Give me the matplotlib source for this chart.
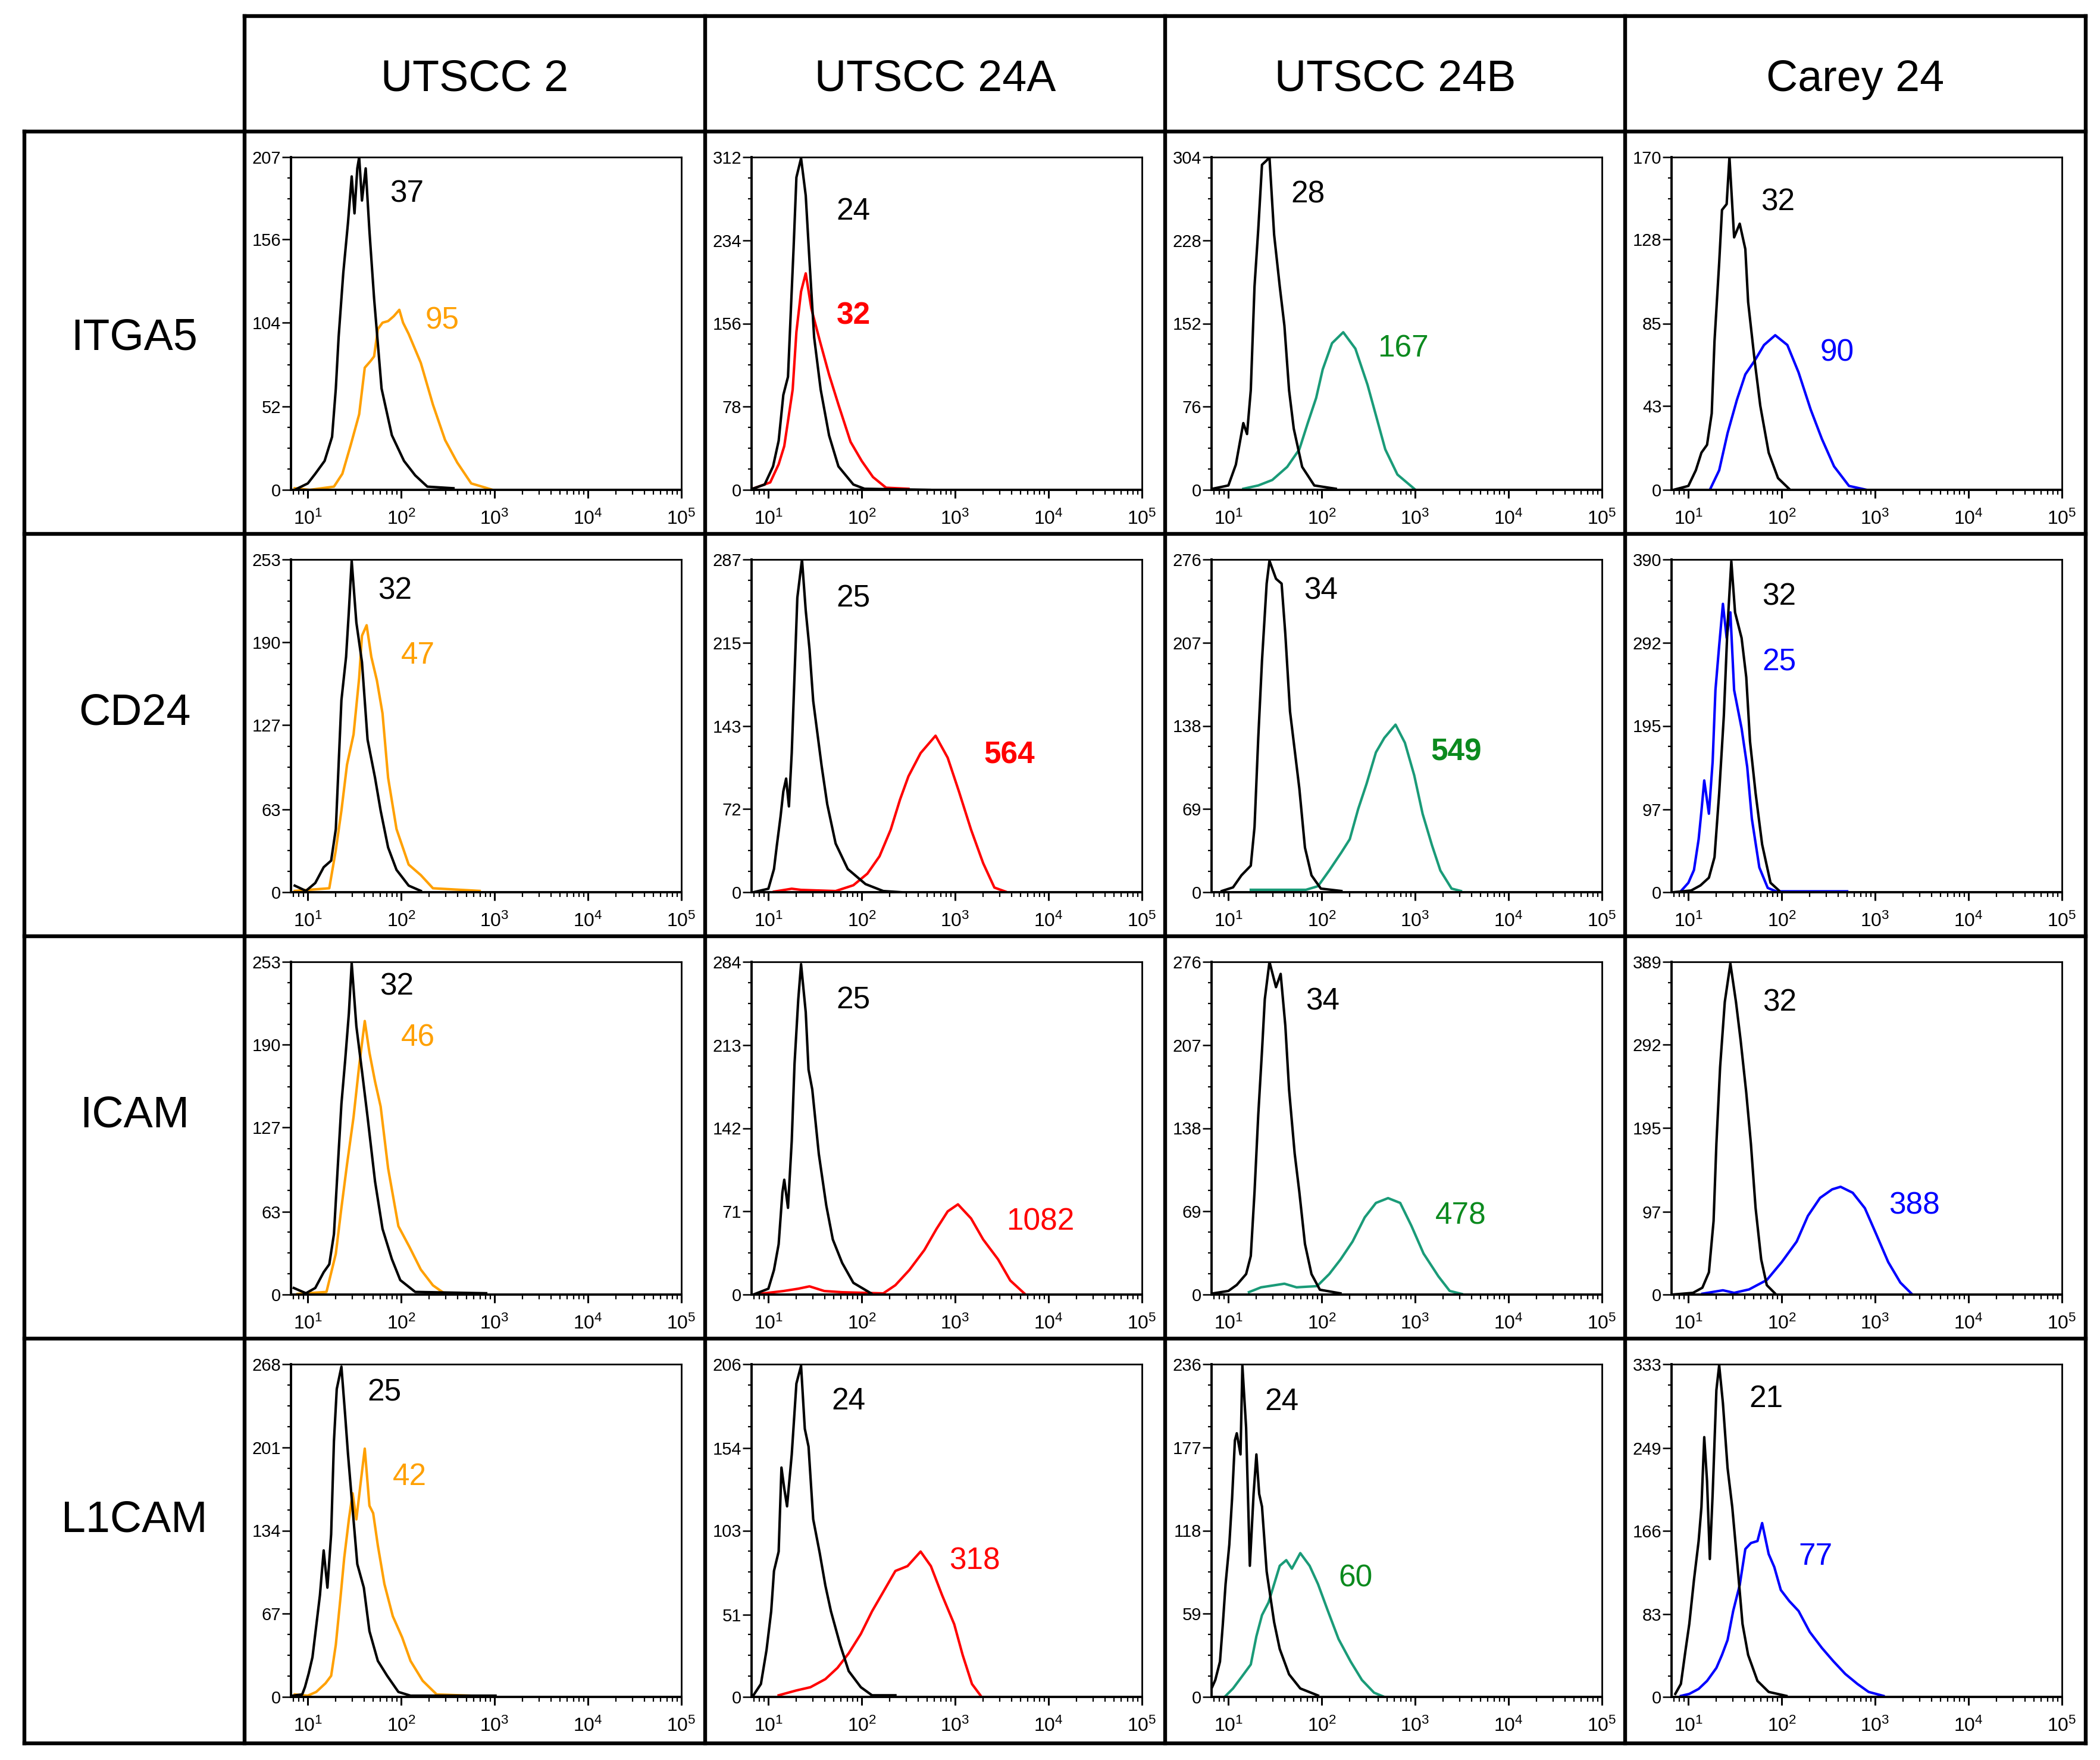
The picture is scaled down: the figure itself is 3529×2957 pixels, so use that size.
import numpy as np
import matplotlib
matplotlib.use("Agg")
import matplotlib.pyplot as plt
from matplotlib.lines import Line2D
from matplotlib.ticker import FixedLocator, NullFormatter

plt.rcParams['font.family'] = ['Liberation Sans', 'DejaVu Sans']
plt.rcParams['mathtext.fontset'] = 'custom'
plt.rcParams['mathtext.rm'] = 'Liberation Sans'
plt.rcParams['mathtext.it'] = 'Liberation Sans'

# table headers
cell_lines = ["UTSCC 2", "UTSCC 24A", "UTSCC 24B", "Carey 24"]
markers = ["ITGA5", "CD24", "ICAM", "L1CAM"]

# histogram traces: (log10 fluorescence, events)
# --- ITGA5
itga5_utscc2_ctrl = [(0.86, 0), (1.0, 4), (1.08, 10), (1.18, 18), (1.26, 33), (1.30, 63), (1.33, 95), (1.38, 135),
                     (1.43, 166), (1.47, 195), (1.50, 172), (1.53, 200), (1.55, 207), (1.58, 180), (1.62, 200),
                     (1.66, 161), (1.71, 119), (1.79, 63), (1.90, 34), (2.03, 18), (2.15, 9), (2.28, 2), (2.56, 1)]
itga5_utscc2_ab = [(0.86, 1), (1.02, 0), (1.28, 2), (1.37, 10), (1.46, 28), (1.55, 47), (1.61, 76), (1.67, 80),
                   (1.71, 83), (1.75, 100), (1.80, 104), (1.86, 105), (1.92, 108), (1.98, 112), (2.02, 104),
                   (2.08, 97), (2.21, 79), (2.34, 53), (2.47, 31), (2.60, 17), (2.75, 4), (2.98, 0)]
itga5_24a_ctrl = [(0.83, 1), (0.96, 5), (1.05, 22), (1.11, 46), (1.16, 89), (1.21, 106), (1.24, 167), (1.27, 227),
                  (1.30, 293), (1.35, 311), (1.40, 276), (1.44, 215), (1.49, 143), (1.56, 94), (1.65, 51),
                  (1.75, 22), (1.91, 5), (2.03, 1), (2.73, 0)]
itga5_24a_ab = [(0.83, 1), (1.02, 7), (1.11, 24), (1.17, 41), (1.26, 94), (1.30, 148), (1.35, 186), (1.40, 203),
                (1.46, 170), (1.55, 140), (1.65, 108), (1.75, 80), (1.88, 45), (2.00, 27), (2.12, 12), (2.26, 2),
                (2.50, 1)]
itga5_24b_ctrl = [(0.83, 1), (1.0, 4), (1.08, 23), (1.16, 61), (1.20, 51), (1.24, 91), (1.28, 186), (1.32, 238),
                  (1.36, 297), (1.41, 301), (1.44, 304), (1.49, 233), (1.55, 186), (1.60, 150), (1.65, 91),
                  (1.70, 56), (1.79, 21), (1.92, 4), (2.15, 1)]
itga5_24b_ab = [(1.16, 1), (1.32, 4), (1.47, 9), (1.63, 21), (1.76, 37), (1.85, 61), (1.94, 84), (2.01, 110),
                (2.11, 134), (2.23, 144), (2.36, 129), (2.49, 96), (2.59, 65), (2.68, 37), (2.81, 14), (2.99, 1)]
itga5_carey_ctrl = [(0.84, 0), (1.0, 2), (1.08, 10), (1.14, 19), (1.20, 23), (1.25, 39), (1.28, 76), (1.33, 116),
                    (1.36, 143), (1.41, 146), (1.44, 170), (1.49, 129), (1.55, 136), (1.61, 123), (1.64, 96),
                    (1.71, 66), (1.77, 43), (1.86, 19), (1.96, 6), (2.09, 0)]
itga5_carey_ab = [(1.23, 0), (1.33, 10), (1.42, 29), (1.52, 46), (1.61, 59), (1.71, 66), (1.81, 74), (1.93, 79),
                  (2.06, 74), (2.18, 60), (2.31, 41), (2.43, 26), (2.56, 12), (2.72, 2), (2.91, 0)]
# --- CD24
cd24_utscc2_ctrl = [(0.86, 5), (0.98, 1), (1.08, 7), (1.17, 19), (1.25, 24), (1.30, 48), (1.33, 97), (1.36, 146),
                    (1.41, 179), (1.44, 214), (1.47, 252), (1.52, 205), (1.58, 175), (1.64, 116), (1.72, 87),
                    (1.78, 62), (1.86, 34), (1.95, 17), (2.08, 5), (2.21, 1)]
cd24_utscc2_ab = [(0.86, 1), (1.23, 3), (1.30, 32), (1.36, 62), (1.42, 97), (1.49, 120), (1.55, 163), (1.58, 195),
                  (1.63, 203), (1.68, 179), (1.74, 161), (1.80, 136), (1.86, 87), (1.95, 48), (2.08, 21),
                  (2.21, 13), (2.34, 3), (2.84, 1)]
cd24_24a_ctrl = [(0.84, 0), (1.0, 3), (1.06, 20), (1.09, 40), (1.13, 65), (1.16, 87), (1.19, 98), (1.22, 74),
                 (1.25, 120), (1.28, 187), (1.31, 254), (1.36, 287), (1.40, 243), (1.44, 210), (1.48, 165),
                 (1.57, 109), (1.63, 76), (1.72, 42), (1.85, 20), (2.04, 7), (2.23, 1), (2.42, 0)]
cd24_24a_ab = [(1.06, 0.5), (1.25, 3), (1.35, 2), (1.72, 1), (1.91, 6), (2.06, 16), (2.19, 31), (2.31, 54),
               (2.41, 80), (2.50, 100), (2.63, 120), (2.79, 135), (2.92, 116), (3.04, 87), (3.17, 54), (3.30, 25),
               (3.42, 4), (3.54, 0.5)]
cd24_24b_ctrl = [(0.93, 1), (1.05, 4), (1.14, 14), (1.24, 22), (1.28, 54), (1.32, 128), (1.36, 192), (1.41, 256),
                 (1.44, 275), (1.51, 260), (1.57, 256), (1.61, 214), (1.66, 150), (1.71, 118), (1.76, 86),
                 (1.82, 37), (1.89, 14), (1.99, 3), (2.21, 1)]
cd24_24b_ab = [(1.24, 2), (1.83, 2), (1.96, 5), (2.08, 18), (2.21, 33), (2.30, 44), (2.39, 69), (2.48, 90),
               (2.58, 116), (2.67, 128), (2.79, 139), (2.89, 124), (2.99, 97), (3.08, 65), (3.18, 39), (3.27, 18),
               (3.39, 3), (3.49, 1)]
cd24_carey_ctrl = [(0.84, 0), (1.03, 2), (1.13, 8), (1.22, 17), (1.28, 41), (1.33, 116), (1.38, 207), (1.42, 313),
                   (1.46, 388), (1.50, 328), (1.57, 298), (1.62, 252), (1.66, 177), (1.72, 116), (1.79, 56),
                   (1.88, 11), (1.97, 2)]
cd24_carey_ab = [(0.91, 0), (1.0, 11), (1.06, 26), (1.11, 62), (1.14, 95), (1.17, 131), (1.22, 92), (1.26, 153),
                 (1.29, 237), (1.33, 289), (1.37, 338), (1.41, 298), (1.45, 328), (1.49, 237), (1.57, 192),
                 (1.63, 147), (1.68, 86), (1.76, 29), (1.85, 5), (1.94, 1), (2.29, 1), (2.70, 1)]
# --- ICAM
icam_utscc2_ctrl = [(0.85, 5), (0.98, 1), (1.08, 5), (1.17, 17), (1.23, 23), (1.28, 46), (1.32, 96), (1.36, 145),
                    (1.40, 178), (1.44, 214), (1.47, 252), (1.52, 204), (1.58, 170), (1.64, 135), (1.72, 86),
                    (1.80, 50), (1.90, 27), (1.99, 11), (2.15, 2), (2.91, 1)]
icam_utscc2_ab = [(0.89, 0.5), (1.20, 2), (1.30, 31), (1.36, 66), (1.42, 99), (1.49, 135), (1.55, 174),
                  (1.61, 208), (1.66, 184), (1.72, 162), (1.78, 143), (1.86, 96), (1.97, 52), (2.09, 36),
                  (2.21, 19), (2.34, 7), (2.46, 1)]
icam_24a_ctrl = [(0.84, 0), (1.0, 5), (1.06, 21), (1.11, 43), (1.15, 87), (1.17, 98), (1.21, 74), (1.25, 131),
                 (1.28, 197), (1.32, 252), (1.35, 282), (1.40, 241), (1.43, 192), (1.47, 175), (1.54, 120),
                 (1.62, 76), (1.69, 47), (1.79, 27), (1.91, 10), (2.10, 1)]
icam_24a_ab = [(0.84, 0), (1.16, 3), (1.32, 5), (1.44, 7), (1.60, 3), (1.79, 2), (2.23, 1), (2.36, 8), (2.51, 21),
               (2.67, 38), (2.80, 56), (2.92, 71), (3.03, 77), (3.17, 65), (3.30, 47), (3.46, 30), (3.59, 12),
               (3.74, 1)]
icam_24b_ctrl = [(0.84, 1), (1.0, 3), (1.09, 8), (1.19, 17), (1.24, 32), (1.28, 85), (1.32, 149), (1.36, 202),
                 (1.39, 245), (1.44, 276), (1.51, 255), (1.56, 266), (1.61, 223), (1.65, 170), (1.71, 117),
                 (1.76, 85), (1.82, 42), (1.89, 17), (1.98, 4), (2.20, 1)]
icam_24b_ab = [(1.22, 2), (1.35, 6), (1.60, 9), (1.73, 6), (1.95, 7), (2.08, 17), (2.20, 29), (2.33, 44),
               (2.46, 64), (2.58, 76), (2.71, 80), (2.84, 76), (2.96, 57), (3.09, 34), (3.25, 15), (3.37, 3),
               (3.50, 0.5)]
icam_carey_ctrl = [(0.83, 0), (1.05, 2), (1.15, 8), (1.22, 26), (1.27, 86), (1.30, 176), (1.34, 266), (1.39, 342),
                   (1.45, 387), (1.51, 342), (1.56, 297), (1.62, 236), (1.67, 176), (1.72, 101), (1.78, 41),
                   (1.84, 11), (1.94, 0)]
icam_carey_ab = [(1.15, 1), (1.37, 5), (1.49, 2), (1.65, 6), (1.84, 17), (2.00, 38), (2.16, 62), (2.28, 92),
                 (2.41, 113), (2.54, 123), (2.63, 126), (2.76, 119), (2.89, 101), (3.01, 71), (3.14, 38),
                 (3.27, 14), (3.39, 1)]
# --- L1CAM
l1cam_utscc2_ctrl = [(0.84, 1), (0.94, 2), (0.97, 8), (1.01, 19), (1.05, 32), (1.09, 57), (1.13, 82), (1.17, 118),
                     (1.21, 88), (1.25, 131), (1.28, 206), (1.31, 248), (1.36, 266), (1.40, 227), (1.43, 196),
                     (1.47, 160), (1.53, 107), (1.60, 88), (1.66, 53), (1.75, 29), (1.85, 17), (1.97, 4),
                     (2.10, 1), (3.01, 1)]
l1cam_utscc2_ab = [(0.86, 2), (1.0, 1), (1.09, 4), (1.19, 11), (1.25, 17), (1.30, 42), (1.35, 80), (1.39, 112),
                   (1.44, 143), (1.48, 164), (1.52, 143), (1.57, 175), (1.61, 200), (1.66, 154), (1.70, 148),
                   (1.75, 122), (1.82, 91), (1.91, 65), (2.01, 48), (2.10, 29), (2.23, 13), (2.38, 2), (2.73, 1)]
l1cam_24a_ctrl = [(0.84, 1), (0.92, 8), (0.98, 29), (1.03, 53), (1.06, 78), (1.11, 90), (1.14, 142), (1.17, 129),
                  (1.20, 118), (1.25, 150), (1.30, 194), (1.35, 205), (1.39, 166), (1.43, 155), (1.48, 110),
                  (1.55, 89), (1.61, 69), (1.67, 53), (1.77, 32), (1.86, 16), (1.99, 6), (2.11, 1), (2.36, 1)]
l1cam_24a_ab = [(1.11, 1), (1.30, 4), (1.45, 6), (1.61, 11), (1.74, 18), (1.86, 27), (1.99, 39), (2.11, 53),
                (2.24, 66), (2.36, 78), (2.49, 81), (2.63, 90), (2.74, 81), (2.86, 63), (2.99, 45), (3.08, 26),
                (3.18, 8), (3.27, 1)]
l1cam_24b_ctrl = [(0.82, 6), (0.86, 12), (0.91, 25), (0.94, 51), (0.97, 80), (1.01, 108), (1.04, 141), (1.07, 182),
                  (1.09, 187), (1.13, 172), (1.15, 235), (1.19, 191), (1.23, 93), (1.27, 144), (1.30, 172),
                  (1.33, 144), (1.36, 135), (1.41, 89), (1.45, 71), (1.49, 53), (1.55, 34), (1.65, 16), (1.77, 6),
                  (1.96, 1)]
l1cam_24b_ab = [(0.96, 0), (1.05, 6), (1.14, 14), (1.24, 23), (1.30, 43), (1.36, 58), (1.43, 67), (1.49, 80),
                (1.55, 93), (1.62, 97), (1.68, 91), (1.77, 102), (1.87, 93), (1.96, 80), (2.06, 62), (2.18, 41),
                (2.31, 25), (2.43, 12), (2.56, 3), (2.67, 0)]
l1cam_carey_ctrl = [(0.86, 3), (0.92, 13), (0.97, 47), (1.01, 73), (1.06, 117), (1.11, 156), (1.14, 190),
                    (1.17, 260), (1.20, 216), (1.23, 138), (1.26, 203), (1.30, 307), (1.33, 332), (1.37, 294),
                    (1.42, 229), (1.47, 190), (1.52, 138), (1.58, 73), (1.64, 42), (1.74, 16), (1.86, 5), (2.05, 1)]
l1cam_carey_ab = [(0.92, 1), (1.01, 3), (1.11, 8), (1.20, 16), (1.30, 29), (1.36, 42), (1.42, 57), (1.48, 86),
                  (1.55, 112), (1.61, 148), (1.67, 154), (1.74, 156), (1.79, 174), (1.86, 143), (1.92, 130),
                  (1.99, 107), (2.08, 96), (2.18, 86), (2.30, 65), (2.43, 49), (2.55, 36), (2.68, 23), (2.81, 13),
                  (2.93, 5), (3.09, 1)]

# y tick labels per row (events)
itga5_yticks = [[0, 52, 104, 156, 207], [0, 78, 156, 234, 312], [0, 76, 152, 228, 304], [0, 43, 85, 128, 170]]
cd24_yticks = [[0, 63, 127, 190, 253], [0, 72, 143, 215, 287], [0, 69, 138, 207, 276], [0, 97, 195, 292, 390]]
icam_yticks = [[0, 63, 127, 190, 253], [0, 71, 142, 213, 284], [0, 69, 138, 207, 276], [0, 97, 195, 292, 389]]
l1cam_yticks = [[0, 67, 134, 201, 268], [0, 51, 103, 154, 206], [0, 59, 118, 177, 236], [0, 83, 166, 249, 333]]

# MFI values written in the panels
ctrl_mfi = [[37, 24, 28, 32], [32, 25, 34, 32], [32, 25, 34, 32], [25, 24, 24, 21]]
ab_mfi = [[95, 32, 167, 90], [47, 564, 549, 25], [46, 1082, 478, 388], [42, 318, 60, 77]]

# styling
line_colors = ["#FFA000", "#FF0000", "#1A9B78", "#0000FF"]
text_colors = ["#FFA000", "#FF0000", "#0B8A1E", "#0000FF"]
bold_labels = [[False, True, False, False], [False, True, True, False],
               [False, False, False, False], [False, False, False, False]]
# label centres (log10 x, events)
ctrl_label_pos = [[(2.06, 184), (1.91, 261), (1.85, 270), (1.96, 147)],
                  [(1.93, 229), (1.91, 253), (1.99, 250), (1.97, 346)],
                  [(1.95, 234), (1.91, 251), (2.01, 243), (1.98, 341)],
                  [(1.82, 245), (1.86, 183), (1.57, 209), (1.83, 298)]]
ab_label_pos = [[(2.44, 105), (1.91, 163), (2.87, 129), (2.59, 70)],
                [(2.18, 180), (3.58, 118), (3.44, 116), (1.97, 269)],
                [(2.18, 195), (3.91, 62), (3.49, 65), (3.42, 104)],
                [(2.09, 177), (3.21, 84), (2.36, 84), (2.36, 140)]]

ctrl_traces = [[itga5_utscc2_ctrl, itga5_24a_ctrl, itga5_24b_ctrl, itga5_carey_ctrl],
               [cd24_utscc2_ctrl, cd24_24a_ctrl, cd24_24b_ctrl, cd24_carey_ctrl],
               [icam_utscc2_ctrl, icam_24a_ctrl, icam_24b_ctrl, icam_carey_ctrl],
               [l1cam_utscc2_ctrl, l1cam_24a_ctrl, l1cam_24b_ctrl, l1cam_carey_ctrl]]
ab_traces = [[itga5_utscc2_ab, itga5_24a_ab, itga5_24b_ab, itga5_carey_ab],
             [cd24_utscc2_ab, cd24_24a_ab, cd24_24b_ab, cd24_carey_ab],
             [icam_utscc2_ab, icam_24a_ab, icam_24b_ab, icam_carey_ab],
             [l1cam_utscc2_ab, l1cam_24a_ab, l1cam_24b_ab, l1cam_carey_ab]]
yticks_all = [itga5_yticks, cd24_yticks, icam_yticks, l1cam_yticks]

W, H = 3530, 2957
fig = plt.figure(figsize=(W / 100, H / 100), dpi=100)
fig.patch.set_facecolor("white")

col_x = [411, 1185, 1958, 2731, 3505]
row_y = [221, 897, 1573, 2249, 2929]
left_edge = 41
top_edge = 27
grid_lw = 4.6
header_y = 133
marker_label_y = [568, 1198, 1874, 2554]


def fx(px):
    return px / W


def fy(py):
    return 1 - py / H


# table lines
for x in col_x:
    fig.add_artist(Line2D([fx(x), fx(x)], [fy(top_edge), fy(row_y[-1])], color="black", lw=grid_lw,
                          solid_capstyle="projecting"))
fig.add_artist(Line2D([fx(left_edge), fx(left_edge)], [fy(row_y[0]), fy(row_y[-1])], color="black", lw=grid_lw,
                      solid_capstyle="projecting"))
fig.add_artist(Line2D([fx(col_x[0]), fx(col_x[-1])], [fy(top_edge), fy(top_edge)], color="black", lw=grid_lw,
                      solid_capstyle="projecting"))
for y in row_y:
    fig.add_artist(Line2D([fx(left_edge), fx(col_x[-1])], [fy(y), fy(y)], color="black", lw=grid_lw,
                          solid_capstyle="projecting"))

# headers
for c, name in enumerate(cell_lines):
    fig.text(fx((col_x[c] + col_x[c + 1]) / 2), fy(header_y), name,
             ha="center", va="center", fontsize=53)
for r, name in enumerate(markers):
    fig.text(fx((left_edge + col_x[0]) / 2), fy(marker_label_y[r]), name,
             ha="center", va="center", fontsize=53)

xmin, xmax = 10 ** 0.82, 10 ** 5
minor_x = [m * 10 ** d for d in range(0, 5) for m in range(2, 10)]
minor_x = [v for v in minor_x if xmin < v < xmax]

for r in range(4):
    for c in range(4):
        x0, y0 = col_x[c], row_y[r]
        ax_l, ax_r = x0 + 78, x0 + 734
        ax_t, ax_b = y0 + 43, y0 + 602
        ax = fig.add_axes([fx(ax_l), fy(ax_b), fx(ax_r - ax_l), (ax_b - ax_t) / H])

        ticks = yticks_all[r][c]
        ymax = ticks[-1]

        ctrl = np.array(ctrl_traces[r][c], dtype=float)
        ab = np.array(ab_traces[r][c], dtype=float)
        ax.plot(10 ** ctrl[:, 0], ctrl[:, 1], color="black", lw=3.0, zorder=3)
        ax.plot(10 ** ab[:, 0], ab[:, 1], color=line_colors[c], lw=3.0, zorder=2)

        ax.set_xscale("log")
        ax.set_xlim(xmin, xmax)
        ax.set_ylim(0, ymax)

        ax.xaxis.set_major_locator(FixedLocator([10, 100, 1000, 10000, 100000]))
        ax.set_xticklabels([r"$10^{%d}$" % k for k in range(1, 6)])
        ax.xaxis.set_minor_locator(FixedLocator(minor_x))
        ax.xaxis.set_minor_formatter(NullFormatter())

        ax.yaxis.set_major_locator(FixedLocator(ticks))
        ax.set_yticklabels([str(t) for t in ticks])
        ax.yaxis.set_minor_locator(FixedLocator([ymax * k / 16 for k in range(1, 16) if k % 4]))

        ax.tick_params(axis="x", which="major", direction="out", length=10, width=2.2, labelsize=23, pad=14)
        ax.tick_params(axis="x", which="minor", direction="out", length=5.5, width=1.6)
        ax.tick_params(axis="y", which="major", direction="out", length=11, width=1.8, labelsize=21, pad=1)
        ax.tick_params(axis="y", which="minor", direction="out", length=4.5, width=1.6)

        for side in ["left", "bottom"]:
            ax.spines[side].set_linewidth(2.8)
        for side in ["top", "right"]:
            ax.spines[side].set_linewidth(2.0)

        lx, ly = ctrl_label_pos[r][c]
        ax.text(10 ** lx, ly, str(ctrl_mfi[r][c]), ha="center", va="center", fontsize=37, color="black")
        lx, ly = ab_label_pos[r][c]
        ax.text(10 ** lx, ly, str(ab_mfi[r][c]), ha="center", va="center", fontsize=37,
                color=text_colors[c], fontweight="bold" if bold_labels[r][c] else "normal")

fig.savefig("out.png", dpi=100, facecolor="white")
